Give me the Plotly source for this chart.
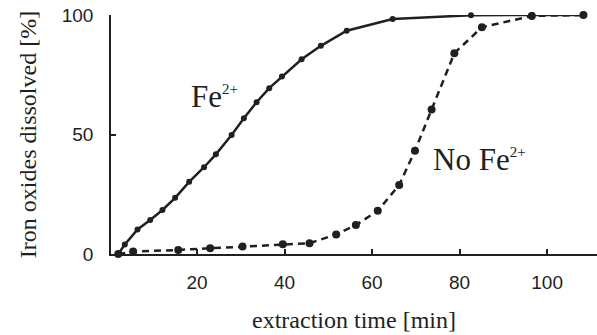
import plotly.graph_objects as go

# Fe2+ series
t_fe = [2, 3.5, 6.4, 9.3, 12.1, 15, 18.2, 21.6, 24.3, 27.9, 30.7, 33.6, 36.5, 39.4,
        43.9, 48.3, 54.2, 64.7, 82.6, 96.5, 108.3]
v_fe = [0, 4, 10.3, 14.2, 18.4, 23.5, 30.2, 36.3, 41.7, 49.8, 56.8, 63.5, 69.4, 74.3,
        81.5, 87.1, 93.4, 98.3, 99.9, 100, 100]

# No Fe2+ series
t_no = [2, 5.4, 15.7, 23, 30.4, 39.6, 45.7, 51.8, 56.3, 61.3, 66.2, 69.8, 73.6, 78.8,
        85.1, 96.5, 108.3]
v_no = [0, 1.0, 1.7, 2.4, 3.1, 4.1, 4.5, 8.2, 12.1, 18.1, 28.9, 43.2, 60.5, 84,
        94.9, 99.6, 100]

x_ticks = [20, 40, 60, 80, 100]
y_ticks = [0, 50, 100]

INK = "#231f20"
SERIF = "Liberation Serif, Times New Roman, serif"
SANS = "Liberation Sans, Arial, sans-serif"

fig = go.Figure()
fig.add_trace(go.Scatter(x=t_no, y=v_no, mode="lines+markers",
                         line=dict(color=INK, width=2.5, dash="7px,5px"),
                         marker=dict(color=INK, size=8), cliponaxis=False))
fig.add_trace(go.Scatter(x=t_fe, y=v_fe, mode="lines+markers",
                         line=dict(color=INK, width=2.5),
                         marker=dict(color=INK, size=6), cliponaxis=False))

SUP = '<sup><span style="font-size:15px">2+</span></sup>'
fig.add_annotation(x=18.1, y=66.0, xref="x", yref="y", xanchor="left", yanchor="middle",
                   text="Fe" + SUP, showarrow=False,
                   font=dict(family=SERIF, size=31, color=INK))
fig.add_annotation(x=73.5, y=39.6, xref="x", yref="y", xanchor="left", yanchor="middle",
                   text="No Fe" + SUP, showarrow=False,
                   font=dict(family=SERIF, size=31, color=INK))

fig.update_layout(
    width=597, height=335,
    margin=dict(l=111, r=0, t=15, b=81),
    paper_bgcolor="white", plot_bgcolor="white",
    showlegend=False,
    xaxis=dict(range=[0.34, 111.4], tickvals=x_ticks, ticks="inside", ticklen=5,
               tickwidth=1.5, tickcolor=INK, showline=True, linecolor=INK, linewidth=1.5,
               showgrid=False, zeroline=False, ticklabelstandoff=10,
               tickfont=dict(family=SANS, size=19, color=INK),
               title=dict(text="extraction time [min]", standoff=20,
                          font=dict(family=SERIF, size=24, color=INK))),
    yaxis=dict(range=[0, 100], tickvals=y_ticks, ticks="inside", ticklen=5,
               tickwidth=1.5, tickcolor=INK, showline=True, linecolor=INK, linewidth=1.5,
               showgrid=False, zeroline=False, ticklabelstandoff=12,
               tickfont=dict(family=SANS, size=19, color=INK),
               title=dict(text="Iron oxides dissolved [%]", standoff=18,
                          font=dict(family=SERIF, size=24, color=INK))),
)

fig.write_html("out.html")
